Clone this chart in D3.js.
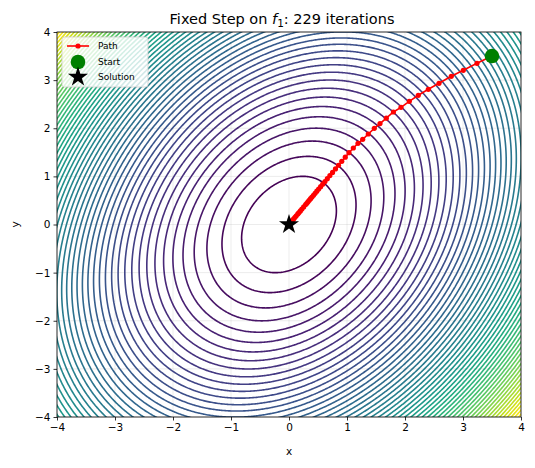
<!DOCTYPE html>
<html>
<head>
<meta charset="utf-8">
<script src="https://cdn.jsdelivr.net/npm/d3@7"></script>
<style>
  body { margin: 0; background: #fff; }
  svg { display: block; }
  text { font-family: "DejaVu Sans", sans-serif; fill: #000; }
</style>
</head>
<body>
<svg id="chart" width="535" height="468"></svg>
<script>
// ---- data ----
const xTicks = [-4, -3, -2, -1, 0, 1, 2, 3, 4]
const yTicks = [-4, -3, -2, -1, 0, 1, 2, 3, 4]
// f1(x, y) = a*x^2 + b*x*y + c*y^2
const coefA = 1.5
const coefB = -0.7
const coefC = 1
const levels = [0.92, 1.84, 2.76, 3.68, 4.6, 5.52, 6.44, 7.36, 8.28, 9.2, 10.12, 11.04, 11.96,
  12.88, 13.8, 14.72, 15.64, 16.56, 17.48, 18.4, 19.32, 20.24, 21.16, 22.08, 23, 23.92, 24.84,
  25.76, 26.68, 27.6, 28.52, 29.44, 30.36, 31.28, 32.2, 33.12, 34.04, 34.96, 35.88, 36.8,
  37.72, 38.64, 39.56, 40.48, 41.4, 42.32, 43.24, 44.16, 45.08, 46, 46.92, 47.84, 48.76,
  49.68, 50.6]
// gradient descent iterates
const pathX = [3.5, 3.241, 3.005, 2.798, 2.586, 2.402, 2.229, 2.074, 1.931, 1.80, 1.678, 1.569,
  1.471, 1.367, 1.271, 1.190, 1.109, 1.034, 0.970, 0.910, 0.854, 0.801, 0.751, 0.705, 0.661,
  0.620, 0.581, 0.545, 0.511, 0.480, 0.450, 0.422, 0.396, 0.372, 0.348, 0.327, 0.307, 0.287,
  0.253, 0.222, 0.196, 0.172, 0.152, 0.125, 0.103, 0.080, 0.058, 0.042, 0.022, 0.009, 0.002, 0]
const pathY = [3.5, 3.350, 3.204, 3.079, 2.934, 2.809, 2.685, 2.560, 2.435, 2.338, 2.209, 2.097,
  1.999, 1.881, 1.770, 1.687, 1.590, 1.492, 1.399, 1.313, 1.231, 1.155, 1.083, 1.016, 0.953,
  0.894, 0.838, 0.787, 0.737, 0.692, 0.649, 0.608, 0.571, 0.536, 0.502, 0.471, 0.442, 0.414,
  0.365, 0.321, 0.282, 0.248, 0.219, 0.180, 0.149, 0.115, 0.084, 0.061, 0.032, 0.012, 0.002, 0]
const startPoint = [3.5, 3.5]
const solution = [0, 0]

function f1(x, y) {
  return coefA * x * x + coefB * x * y + coefC * y * y
}

// ---- layout ----
const svg = d3.select('#chart')
const margin = { left: 57, top: 32, right: 14, bottom: 51 }
const width = 535 - margin.left - margin.right
const height = 468 - margin.top - margin.bottom

const x = d3.scaleLinear().domain([-4, 4]).range([margin.left, margin.left + width])
const y = d3.scaleLinear().domain([-4, 4]).range([margin.top + height, margin.top])

svg.append('defs').append('clipPath').attr('id', 'plot-clip')
  .append('rect')
  .attr('x', margin.left).attr('y', margin.top)
  .attr('width', width).attr('height', height)

// grid
const grid = svg.append('g')
grid.selectAll('line.gx').data(xTicks).enter().append('line')
  .attr('x1', d => x(d)).attr('x2', d => x(d))
  .attr('y1', margin.top).attr('y2', margin.top + height)
  .attr('stroke', '#b0b0b0').attr('stroke-opacity', 0.3).attr('stroke-width', 0.8)
grid.selectAll('line.gy').data(yTicks).enter().append('line')
  .attr('y1', d => y(d)).attr('y2', d => y(d))
  .attr('x1', margin.left).attr('x2', margin.left + width)
  .attr('stroke', '#b0b0b0').attr('stroke-opacity', 0.3).attr('stroke-width', 0.8)

/* ------------- CONTOURS ------------ */
const lo = -4.1, step = 0.02
const n = 411
const values = new Float64Array(n * n)
for (let j = 0; j < n; j++) {
  for (let i = 0; i < n; i++) {
    values[j * n + i] = f1(lo + i * step, -lo - j * step)
  }
}
const contours = d3.contours().size([n, n]).thresholds(levels)(values)
const toPix = d3.geoTransform({
  point: function (cx, cy) {
    this.stream.point(x(lo + (cx - 0.5) * step), y(-lo - (cy - 0.5) * step))
  }
})
const color = d3.scaleSequential(d3.interpolateViridis)
  .domain([levels[0], levels[levels.length - 1]])

svg.append('g').attr('clip-path', 'url(#plot-clip)')
  .selectAll('path').data(contours).enter().append('path')
  .attr('d', d3.geoPath(toPix))
  .attr('fill', 'none')
  .attr('stroke', d => color(d.value))
  .attr('stroke-width', 1.6)

/* ------------- PATH ------------ */
const pts = pathX.map((v, i) => [v, pathY[i]])
const pathG = svg.append('g').attr('clip-path', 'url(#plot-clip)')
pathG.append('path')
  .attr('d', d3.line().x(d => x(d[0])).y(d => y(d[1]))(pts))
  .attr('fill', 'none').attr('stroke', '#ff0000').attr('stroke-width', 1.6)
pathG.selectAll('circle').data(pts).enter().append('circle')
  .attr('cx', d => x(d[0])).attr('cy', d => y(d[1])).attr('r', 2.6)
  .attr('fill', '#ff0000')

svg.append('circle')
  .attr('cx', x(startPoint[0])).attr('cy', y(startPoint[1])).attr('r', 7.3)
  .attr('fill', '#008000')

const star = d3.symbol().type(d3.symbolStar).size(125)
svg.append('path')
  .attr('d', star())
  .attr('transform', `translate(${x(solution[0])},${y(solution[1])})`)
  .attr('fill', '#000')

/* ------------- AXES ------------ */
const xAxis = d3.axisBottom(x).tickValues(xTicks).tickSize(3.5).tickPadding(3)
  .tickFormat(d => d < 0 ? '\u2212' + Math.abs(d) : d)
const yAxis = d3.axisLeft(y).tickValues(yTicks).tickSize(3.5).tickPadding(3)
  .tickFormat(d => d < 0 ? '\u2212' + Math.abs(d) : d)

const gx = svg.append('g').attr('transform', `translate(0,${margin.top + height})`).call(xAxis)
const gy = svg.append('g').attr('transform', `translate(${margin.left},0)`).call(yAxis)
;[gx, gy].forEach(g => {
  g.select('.domain').remove()
  g.selectAll('line').attr('stroke', '#000').attr('stroke-width', 0.8)
  g.selectAll('text').attr('font-size', 10.5).attr('font-family', '"DejaVu Sans", sans-serif').attr('fill', '#000')
})

svg.append('rect')
  .attr('x', margin.left).attr('y', margin.top)
  .attr('width', width).attr('height', height)
  .attr('fill', 'none').attr('stroke', '#000').attr('stroke-width', 0.8)

svg.append('text').attr('x', x(0)).attr('y', 455)
  .attr('text-anchor', 'middle').attr('font-size', 10.5).text('x')
svg.append('text')
  .attr('transform', `translate(19,${y(0)}) rotate(-90)`)
  .attr('text-anchor', 'middle').attr('font-size', 10.5).text('y')

const title = svg.append('text').attr('x', 282).attr('y', 24)
  .attr('text-anchor', 'middle').attr('font-size', 14.5)
title.append('tspan').text('Fixed Step on ')
title.append('tspan').attr('font-style', 'italic').text('f')
title.append('tspan').attr('font-size', 10.5).attr('dy', 3).text('1')
title.append('tspan').attr('dy', -3).text(': 229 iterations')

/* ------------- LEGEND ------------ */
const legend = svg.append('g').attr('transform', 'translate(62,37)')
legend.append('rect').attr('width', 86).attr('height', 50).attr('rx', 2.5)
  .attr('fill', '#fff').attr('fill-opacity', 0.8)
  .attr('stroke', '#cccccc').attr('stroke-width', 0.8)
const rows = [
  { label: 'Path', y: 9 },
  { label: 'Start', y: 25 },
  { label: 'Solution', y: 40 }
]
legend.append('line').attr('x1', 5).attr('x2', 27).attr('y1', rows[0].y).attr('y2', rows[0].y)
  .attr('stroke', '#ff0000').attr('stroke-width', 1.6)
legend.append('circle').attr('cx', 16).attr('cy', rows[0].y).attr('r', 2.6).attr('fill', '#ff0000')
legend.append('circle').attr('cx', 16).attr('cy', rows[1].y).attr('r', 7.3).attr('fill', '#008000')
legend.append('path').attr('d', star()).attr('transform', `translate(16,${rows[2].y})`).attr('fill', '#000')
legend.selectAll('text.lbl').data(rows).enter().append('text')
  .attr('x', 36).attr('y', d => d.y + 3).attr('font-size', 9).text(d => d.label)
</script>
</body>
</html>
